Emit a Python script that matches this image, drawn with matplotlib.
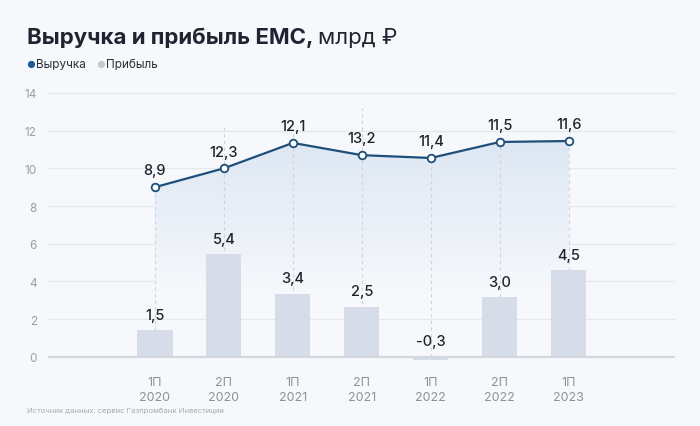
import matplotlib.pyplot as plt
import numpy as np
from matplotlib.colors import LinearSegmentedColormap

plt.rcParams['font.family'] = ['Inter', 'DejaVu Sans']

# Data
periods = ['1П\n2020', '2П\n2020', '1П\n2021', '2П\n2021', '1П\n2022', '2П\n2022', '1П\n2023']
revenue = [8.9, 12.3, 12.1, 13.2, 11.4, 11.5, 11.6]
revenue_drawn = [9.0, 10.0, 11.35, 10.7, 10.55, 11.4, 11.45]  # heights as drawn in the source
profit = [1.5, 5.4, 3.4, 2.5, -0.3, 3.0, 4.5]
profit_drawn = [1.4, 5.45, 3.35, 2.65, -0.2, 3.15, 4.6]

bg = '#f6f8fb'
line_c = '#1d4f7a'
bar_c = '#d6dce8'

fig = plt.figure(figsize=(7, 4.27), dpi=100, facecolor=bg)
ax = fig.add_axes([48 / 700, 1 - 369 / 427, 627 / 700, 275 / 427])
ax.set_facecolor(bg)

x = np.arange(len(periods))
ax.set_xlim(-1.55, 7.54)
ax.set_ylim(-0.6, 14)

# grid
for y in range(2, 15, 2):
    ax.axhline(y, color='#e4e8ee', lw=0.9, zorder=0)
ax.axhline(0, color='#d3d8e0', lw=1.6, zorder=3)

# gradient fill under line
poly = ax.fill_between(x, revenue_drawn, 0, color='none', lw=0)
cmap = LinearSegmentedColormap.from_list('g', [bg, '#dde7f3'])
grad = np.linspace(0, 1, 256).reshape(-1, 1)
im = ax.imshow(grad, cmap=cmap, aspect='auto', origin='lower',
               extent=[x[0], x[-1], 3.5, 11.5], zorder=1)
im.set_clip_path(poly.get_paths()[0], transform=ax.transData)

# dashed verticals
for xi, v in zip(x, revenue):
    ax.plot([xi, xi], [0, v], color='#cfd4dc', lw=0.8, ls=(0, (3, 3)), zorder=1.5)

ax.bar(x, profit_drawn, width=0.51, color=bar_c, zorder=2)

ax.plot(x, revenue_drawn, color=line_c, lw=1.6, zorder=4)
ax.scatter(x, revenue_drawn, s=30, facecolor='white', edgecolor=line_c, lw=1.3, zorder=5)

for xi, yd, v in zip(x, revenue_drawn, revenue):
    ax.annotate(f'{v:.1f}'.replace('.', ','), (xi, yd), xytext=(0, 7),
                textcoords='offset points', ha='center', va='bottom',
                fontsize=10.5, fontweight='medium', color='#1f242c', zorder=6)
for xi, yd, v in zip(x, profit_drawn, profit):
    ax.annotate(f'{v:.1f}'.replace('.', ','), (xi, max(yd, 0)), xytext=(0, 6),
                textcoords='offset points', ha='center', va='bottom',
                fontsize=10.5, fontweight='medium', color='#1f242c', zorder=6)

ax.set_yticks(range(0, 15, 2))
ax.set_xticks(x)
ax.set_xticklabels(periods, fontsize=9, color='#8c919a', linespacing=1.25)
ax.tick_params(axis='y', labelsize=8.5, labelcolor='#9a9fa8', length=0, pad=8)
ax.tick_params(axis='x', length=0, pad=6)
for s in ax.spines.values():
    s.set_visible(False)

# title and legend
t = fig.text(27 / 700, 1 - 38 / 427, 'Выручка и прибыль ЕМС,', fontsize=16,
             fontweight='bold', color='#1f2430', va='center')
fig.canvas.draw()
bb = t.get_window_extent()
fig.text(bb.x1 / 700 + 0.007, 1 - 38 / 427, 'млрд ₽', fontsize=16,
         color='#1f2430', va='center')

fig.text(26 / 700, 1 - 65 / 427, '●', fontsize=7, color='#1f5a96', va='center')
fig.text(36 / 700, 1 - 65 / 427, 'Выручка', fontsize=8.5, color='#2b2f38', va='center')
fig.text(96 / 700, 1 - 65 / 427, '●', fontsize=7, color='#c3c8d1', va='center')
fig.text(106 / 700, 1 - 65 / 427, 'Прибыль', fontsize=8.5, color='#2b2f38', va='center')

fig.text(27 / 700, 1 - 411 / 427, 'Источник данных: сервис Газпромбанк Инвестиции',
         fontsize=5.5, color='#a4a9b2', va='center')

fig.savefig('out.png', dpi=100, facecolor=bg)
